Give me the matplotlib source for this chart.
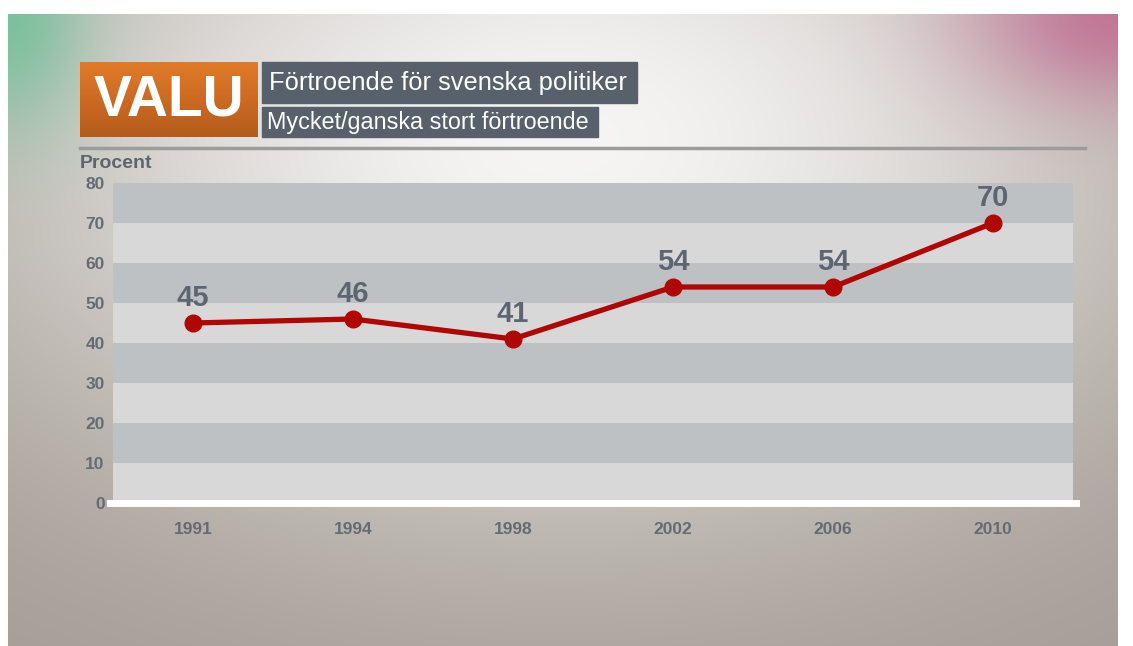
import matplotlib.pyplot as plt
import numpy as np
from matplotlib.patches import Rectangle

# data
years = ["1991", "1994", "1998", "2002", "2006", "2010"]
values = [45, 46, 41, 54, 54, 70]
y_ticks = [0, 10, 20, 30, 40, 50, 60, 70, 80]

title = "Förtroende för svenska politiker"
subtitle = "Mycket/ganska stort förtroende"

W, H = 1133, 646
plt.rcParams['font.family'] = ['Liberation Sans', 'DejaVu Sans']
fig = plt.figure(figsize=(W / 100, H / 100), dpi=100)
fig.patch.set_facecolor('white')


def fx(px):
    return px / W


def fy(py):
    return 1 - py / H


# background picture (tv-graphic style gradient)
bg = fig.add_axes([fx(8), 0, fx(1118) - fx(8), fy(14)])
bg.set_axis_off()
h, w = 320, 560
yy, xx = np.mgrid[0:1:h * 1j, 0:1:w * 1j]
glow = np.exp(-(((xx - 0.5) / 0.55) ** 2 + ((yy - 0.2) / 0.6) ** 2))
base = 0.60 + 0.36 * glow
warm = (1 - base) * 0.08
img = np.stack([base + warm, base, base - warm], axis=-1)
tl = 0.75 * np.exp(-((xx / 0.07) ** 2 + (yy / 0.18) ** 2))
tr = 0.8 * np.exp(-(((1 - xx) / 0.13) ** 2 + (yy / 0.14) ** 2))
teal = np.array([0.40, 0.76, 0.58])
pink = np.array([0.76, 0.40, 0.56])
img = img * (1 - tl[..., None]) + teal * tl[..., None]
img = img * (1 - tr[..., None]) + pink * tr[..., None]
bg.imshow(np.clip(img, 0, 1), aspect='auto', extent=[0, 1, 0, 1], interpolation='bilinear')
bg.set_xlim(0, 1)
bg.set_ylim(0, 1)

# header boxes
grad = np.linspace(0, 1, 64)[:, None]
orange = np.stack([0.88 - 0.17 * grad, 0.48 - 0.12 * grad, 0.16 - 0.05 * grad], axis=-1)
hb = fig.add_axes([fx(80), fy(137), fx(258) - fx(80), fy(62) - fy(137)])
hb.imshow(orange, aspect='auto', extent=[0, 1, 0, 1])
hb.set_axis_off()
fig.text(fx(169), fy(100), "VALU", color='white', fontsize=41, fontweight='bold',
         ha='center', va='center')

fig.patches.append(Rectangle((fx(262), fy(103)), fx(637) - fx(262), fy(62) - fy(103),
                             transform=fig.transFigure, color='#58616b'))
fig.patches.append(Rectangle((fx(262), fy(137)), fx(598) - fx(262), fy(107) - fy(137),
                             transform=fig.transFigure, color='#58616b'))
fig.text(fx(269), fy(83), title, color='white', fontsize=18.4, va='center', ha='left')
fig.text(fx(267), fy(123), subtitle, color='white', fontsize=16.8, va='center', ha='left')
fig.add_artist(plt.Line2D([fx(80), fx(1085)], [fy(148), fy(148)], color='#9c9c9c', lw=2.5))

fig.text(fx(80), fy(163), "Procent", color='#5d6670', fontsize=14, fontweight='bold',
         ha='left', va='center')

# chart
ax = fig.add_axes([fx(113), fy(503), fx(1073) - fx(113), fy(183) - fy(503)])
ax.set_facecolor('none')
for i, lo in enumerate(range(0, 80, 10)):
    ax.axhspan(lo, lo + 10, color='#bec1c4' if i % 2 else '#d8d8d8', lw=0, zorder=0)
ax.set_xlim(-0.5, 5.5)
ax.set_ylim(0, 80)
ax.plot([-0.52, 5.52], [0, 0], color='white', lw=5, clip_on=False, zorder=2)

x = np.arange(len(years))
ax.plot(x, values, color='#b10606', lw=3.8, marker='o', markersize=12, zorder=3)
for xi, v in zip(x, values):
    ax.annotate(str(v), (xi, v), xytext=(0, 8), textcoords='offset points',
                ha='center', va='bottom', fontsize=21, fontweight='bold', color='#5d6670')

ax.set_xticks(x)
ax.set_xticklabels(years)
ax.set_yticks(y_ticks)
ax.tick_params(length=0, colors='#646b74', labelsize=12.5, pad=6)
ax.tick_params(axis='x', pad=14)
for lab in ax.get_xticklabels() + ax.get_yticklabels():
    lab.set_fontweight('bold')
for s in ax.spines.values():
    s.set_visible(False)

fig.savefig("out.png", dpi=100)
